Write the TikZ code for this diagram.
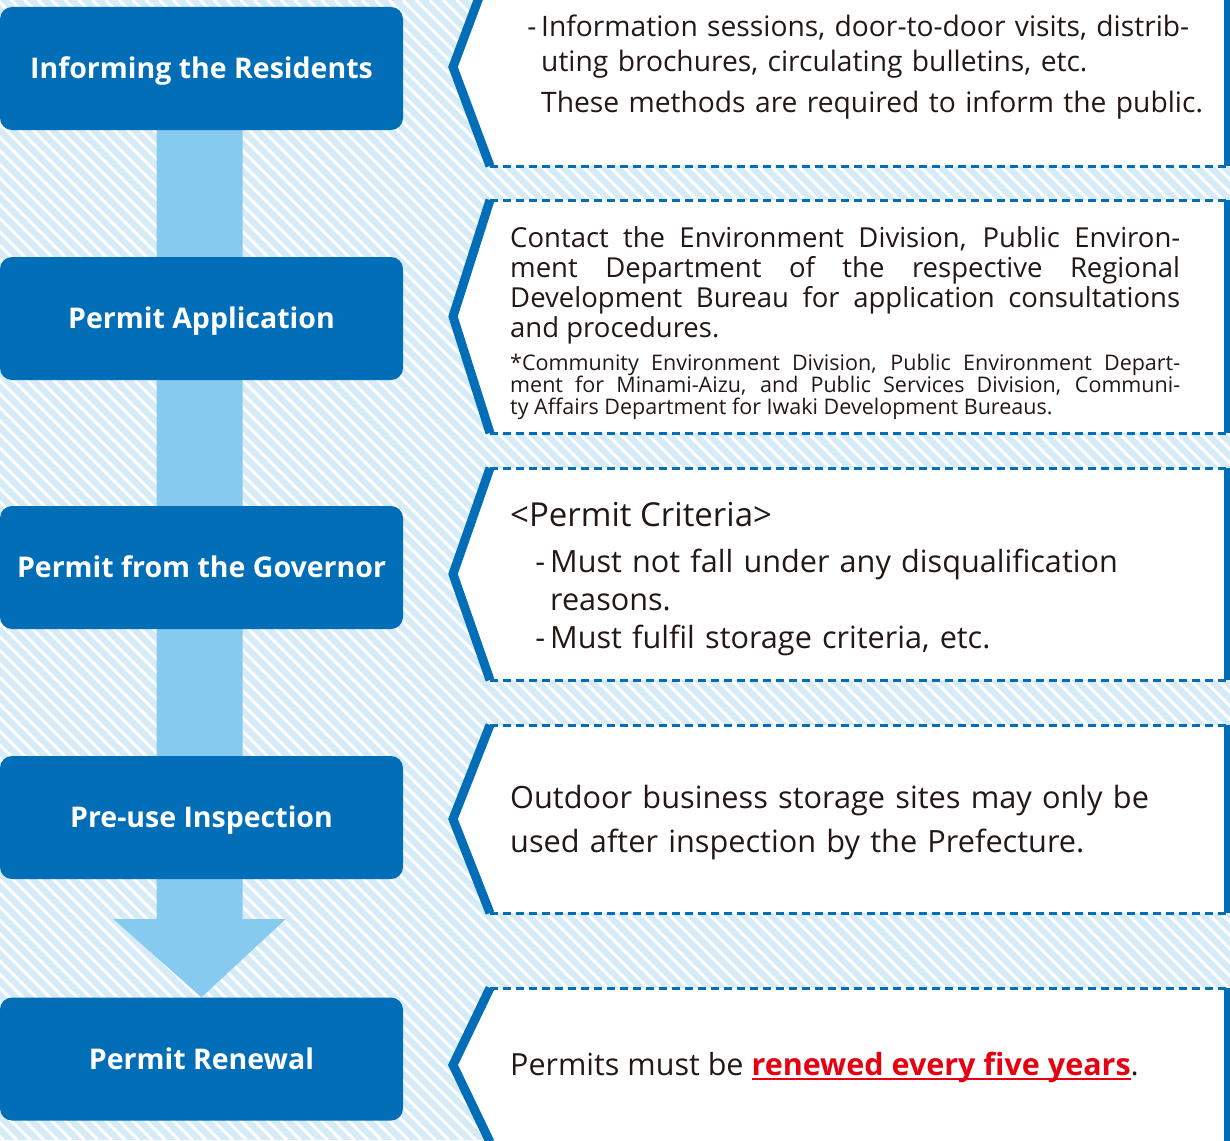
\documentclass[tikz,border=0pt]{standalone}
\usepackage{fontspec}
\setmainfont{Open Sans}
\usetikzlibrary{backgrounds,calc}
\definecolor{flowblue}{RGB}{3,110,184}
\definecolor{arrowblue}{RGB}{134,202,240}
\definecolor{paleblue}{RGB}{214,235,248}
\definecolor{inkblack}{RGB}{35,24,21}
\definecolor{alertred}{RGB}{230,0,18}
\newcommand\dashitem{\leavevmode\llap{-\,}}
\newsavebox\linebox
\newcommand\redunder[1]{\sbox\linebox{#1}\rlap{\rule[-5pt]{\wd\linebox}{2pt}}\usebox\linebox}
\tikzset{
  stepbox/.style = {
    fill=flowblue, text=white, rounded corners=12pt,
    minimum width=403pt, minimum height=123pt, inner sep=0pt,
    text height=20pt, text depth=0pt,
    font=\fontsize{28.5}{32}\selectfont\bfseries
  },
  notetext/.style = {anchor=base west, inner sep=0pt, text=inkblack, align=left},
  panelline/.style = {draw=flowblue, line width=9pt},
  dashline/.style = {draw=flowblue, line width=3pt, dash pattern=on 8pt off 5pt}
}

\begin{document}
\begin{tikzpicture}[x=1pt,y=-1pt]
  \useasboundingbox (0,0) rectangle (1230,1140);
  % steps
  \node[stepbox] (inform)  at (201.5,68.5)  {Informing the Residents};
  \node[stepbox] (apply)   at (201.5,318.5) {Permit Application};
  \node[stepbox] (permit)  at (201.5,567.5) {Permit from the Governor};
  \node[stepbox] (inspect) at (201.5,817.5) {Pre-use Inspection};
  \node[stepbox] (renew)   at (201.5,1059)  {Permit Renewal};
  % notes
  \node[notetext, text width=680pt, font=\fontsize{28.2}{35}\selectfont] (informnote) at (541,37)
    {\dashitem Information sessions, door-to-door visits, distrib-\\
     uting brochures, circulating bulletins, etc.\\[6pt]
     These methods are required to inform the public.};
  \node[notetext, text width=670pt, align=justify, font=\fontsize{27.5}{30}\selectfont] (applynote) at (510,247)
    {Contact the Environment Division, Public Environ-\linebreak
     ment Department of the respective Regional\linebreak
     Development Bureau for application consultations\linebreak
     and procedures.};
  \node[notetext, text width=670pt, align=justify, font=\fontsize{21.5}{22}\selectfont] (applystar) at (510,370)
    {*Community Environment Division, Public Environment Depart-\linebreak
     ment for Minami-Aizu, and Public Services Division, Communi-\linebreak
     ty Affairs Department for Iwaki Development Bureaus.};
  \node[notetext, font=\fontsize{33}{36}\selectfont] (permithead) at (510,526) {<Permit Criteria>};
  \node[notetext, text width=640pt, font=\fontsize{30.6}{38}\selectfont] (permitnote) at (550,572)
    {\dashitem Must not fall under any disqualification\\
     reasons.\\
     \dashitem Must fulfil storage criteria, etc.};
  \node[notetext, text width=680pt, font=\fontsize{30.7}{44}\selectfont] (inspectnote) at (510,808)
    {Outdoor business storage sites may only be\\
     used after inspection by the Prefecture.};
  \node[notetext, font=\fontsize{30.5}{36}\selectfont] (renewnote) at (510,1075)
    {Permits must be \textcolor{alertred}{\bfseries\redunder{renewed every five years}}.};

  \begin{scope}[on background layer]
    \clip (0,0) rectangle (1230,1140);
    % hatched ground
    \fill[paleblue] (0,0) rectangle (1230,1140);
    \foreach \s in {-1150,-1136.5,...,1230} {\draw[white,line width=3pt] (\s,0) -- ++(1140,1140);}
    % note panels
    \foreach \t/\b in {-32/166,200/433,468/680,725/913,988/1142} {
      \fill[white] (490,\t) -- (1230,\t) -- (1230,\b) -- (490,\b) -- (453,{(\t+\b)/2}) -- cycle;
      \draw[panelline] (490,\t) -- (453,{(\t+\b)/2}) -- (490,\b);
      \draw[panelline,line width=6pt] (1227,\t) -- (1227,\b);
      \draw[dashline] (490,\t) -- (1230,\t) (490,\b) -- (1230,\b);
    }
    % broad arrow
    \fill[arrowblue] ($(inform.south)+(-45,0)$) -- ($(inspect.south)+(-45,40)$)
      -- ($(inspect.south)+(-88,40)$) -- (renew.north)
      -- ($(inspect.south)+(84,40)$) -- ($(inspect.south)+(41,40)$)
      -- ($(inform.south)+(41,0)$) -- cycle;
  \end{scope}
\end{tikzpicture}
\end{document}
